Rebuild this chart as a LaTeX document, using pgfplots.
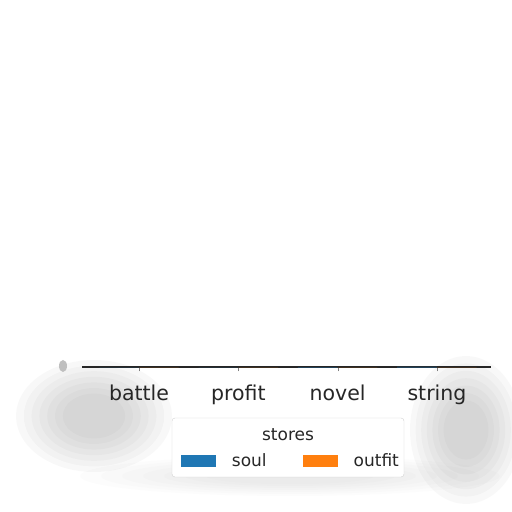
\documentclass[border=0pt]{standalone}
\usepackage{fontspec}
\setmainfont{DejaVu Sans}
\usepackage{pgfplots}
\pgfplotsset{compat=1.18}

\definecolor{tabblue}{HTML}{1F77B4}
\definecolor{taborange}{HTML}{FF7F0E}

\begin{document}
\begin{tikzpicture}[x=1bp,y=1bp]
	\useasboundingbox (0,0) rectangle (512,512);
	% soft grey smudge behind the lower part
	\foreach \r in {1.0,0.9,0.8,0.7,0.6,0.5,0.4} {
		\fill[black!60, opacity=0.045] (94,96) ellipse ({78*\r} and {56*\r});
		\fill[black!60, opacity=0.045] (466,82) ellipse ({56*\r} and {74*\r});
		\fill[black!60, opacity=0.02] (290,36) ellipse ({210*\r} and {20*\r});
	}
	\fill[black!25] (63,146) ellipse (4 and 6);
	% legend frame and title
	\draw[black!18, fill=white, rounded corners=3bp] (172,35) rectangle (404,94);
	\node[font=\fontsize{17bp}{20bp}\selectfont, text=black!85] at (288,77) {stores};

	\begin{axis}[
		at={(82bp,144.5bp)}, anchor=south west,
		scale only axis,
		width=408bp, height=0.6bp,
		xmin=-0.574, xmax=3.534,
		ymin=0, ymax=10,
		ybar, bar width=0.4,
		xtick={0,1,2,3},
		xticklabels={battle,profit,novel,string},
		ytick=\empty,
		tick align=outside,
		xtick pos=bottom,
		major tick length=4bp,
		axis line style={black!85, line width=0.8bp},
		xticklabel style={font=\fontsize{20.5bp}{24bp}\selectfont, text=black!85, yshift=-10bp},
		legend columns=2,
		legend style={at={(axis description cs:0.512,-93.5/0.6)}, anchor=center,
			draw=none, fill=none,
			font=\fontsize{17bp}{20bp}\selectfont, text=black!85,
			/tikz/every odd column/.append style={column sep=14bp},
			/tikz/every even column/.append style={column sep=34bp}},
		legend image code/.code={\fill[#1] (0bp,-6bp) rectangle (35bp,6bp);},
		]
		\addplot[draw=none, fill=tabblue, bar shift=-0.2] coordinates {(0,2) (1,3) (2,8) (3,9)};
		\addlegendentry{soul}
		\addplot[draw=none, fill=taborange, bar shift=0.2] coordinates {(0,1) (1,2) (2,3) (3,2)};
		\addlegendentry{outfit}
	\end{axis}
\end{tikzpicture}
\end{document}
